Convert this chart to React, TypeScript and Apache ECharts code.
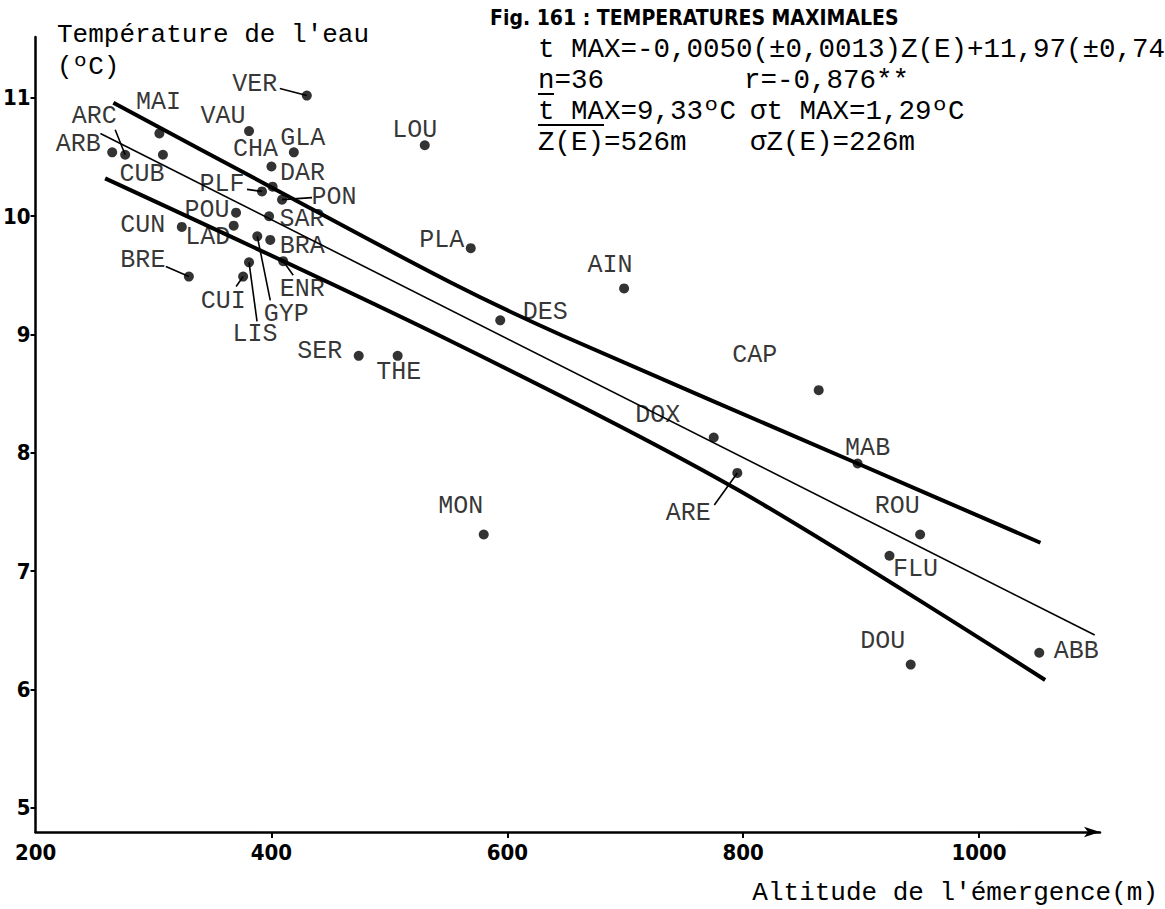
import React, { useEffect, useRef } from "react";
import * as echarts from "echarts";

// ---------- data ----------
const stations = [
  "VER", "MAI", "ARC", "ARB", "CUB", "VAU", "GLA", "CHA", "LOU", "DAR",
  "PLF", "PON", "POU", "SAR", "CUN", "LAD", "BRA", "GYP", "LIS", "CUI",
  "ENR", "BRE", "SER", "THE", "PLA", "AIN", "DES", "CAP", "DOX", "ARE",
  "MAB", "ROU", "FLU", "MON", "DOU", "ABB",
];
const altitudeM = [
  430, 305, 276, 265, 308, 381, 419, 400, 530, 401,
  392, 409, 370, 398, 324, 368, 399, 388, 381, 376,
  410, 330, 474, 507, 569, 699, 594, 864, 775, 795,
  897, 950, 924, 580, 942, 1051,
];
const tempMax = [
  11.02, 10.7, 10.52, 10.54, 10.52, 10.72, 10.54, 10.42, 10.6, 10.25,
  10.21, 10.14, 10.03, 10.0, 9.91, 9.92, 9.8, 9.83, 9.61, 9.49,
  9.62, 9.49, 8.82, 8.82, 9.73, 9.39, 9.12, 8.53, 8.13, 7.83,
  7.91, 7.31, 7.13, 7.31, 6.21, 6.31,
];

const xTickValues = [200, 400, 600, 800, 1000];
const xTickMarks = [400, 600, 800, 1000];
const yTickValues = [5, 6, 7, 8, 9, 10, 11];

// regression line and the two limit lines (altitude, temperature)
const regressionLine = [[255, 10.7], [1098, 6.46]];
const upperLimit = [[266, 10.96], [397, 10.26], [552, 9.44], [647, 8.99], [897, 7.91], [1052, 7.24]];
const lowerLimit = [[259, 10.32], [551, 8.95], [795, 7.69], [1056, 6.08]];

// ---------- layout (pixels) ----------
const LABEL_OFFSET: Record<string, [number, number]> = {
  VER: [-52, -11], MAI: [-1, -31], ARC: [-31, -38], ARB: [-34, -8], CUB: [-21, 20],
  VAU: [-26, -15], GLA: [9, -14], CHA: [-16, -17], LOU: [-10, -15], DAR: [30, -13],
  PLF: [-40, -7], PON: [52, -2], POU: [-29, -2], SAR: [33, 3], CUN: [-39, -1],
  LAD: [-26, 12], BRA: [32, 7], GYP: [29, 78], LIS: [6, 72], CUI: [-20, 25],
  ENR: [19, 28], BRE: [-46, -16], SER: [-39, -4], THE: [1, 17], PLA: [-29, -8],
  AIN: [-14, -23], DES: [45, -8], CAP: [-64, -35], DOX: [-56, -22], ARE: [-49, 41],
  MAB: [10, -15], ROU: [-23, -28], FLU: [26, 14], MON: [-23, -28], DOU: [-28, -23],
  ABB: [37, -1],
};
const LEADER_START: Record<string, [number, number]> = {
  VER: [-27, -7], ARC: [-10, -25], PLF: [-15, -2], PON: [30, -2], GYP: [13, 64],
  LIS: [8, 59], CUI: [-7, 10], ENR: [10, 14], BRE: [-23, -10], ARE: [-23, 32],
};

const MONO = '"Liberation Mono", "Courier New", monospace';
const NARROW = '"Liberation Sans Narrow", "Arial Narrow", "DejaVu Sans Condensed", sans-serif';
const INK = "#000";

const HX = 538; // header left
const HX2 = 750; // header second column

function buildOption(): any {
  const scatterData = stations.map((s, i) => ({
    name: s,
    value: [altitudeM[i], tempMax[i]],
    label: { offset: LABEL_OFFSET[s] || [0, -20] },
  }));
  const leaderData = stations
    .map((s, i) => (LEADER_START[s] ? [altitudeM[i], tempMax[i], LEADER_START[s][0], LEADER_START[s][1]] : null))
    .filter((d) => d !== null);

  const txt = (text: string, x: number, y: number, extra: any = {}) => ({
    type: "text",
    x,
    y,
    silent: true,
    style: {
      text,
      fontFamily: MONO,
      fontSize: 27.5,
      fill: INK,
      align: "left",
      verticalAlign: "middle",
      ...extra,
    },
  });

  return {
    animation: false,
    backgroundColor: "#fff",
    grid: { left: 35, right: 65, top: 37, bottom: 77, containLabel: false },
    xAxis: {
      type: "value",
      min: 200,
      max: 1102.5,
      axisLine: {
        show: true,
        lineStyle: { color: INK, width: 2.5 },
        symbol: ["none", "arrow"],
        symbolSize: [8, 16],
      },
      axisTick: {
        show: true,
        length: 6,
        lineStyle: { color: INK, width: 2 },
        customValues: xTickMarks,
      },
      axisLabel: {
        show: true,
        customValues: xTickValues,
        formatter: (v: number) => String(v),
        margin: 9,
        fontFamily: NARROW,
        fontWeight: "bold",
        fontSize: 22,
        color: INK,
      },
      splitLine: { show: false },
    },
    yAxis: {
      type: "value",
      min: 4.795,
      max: 11.515,
      axisLine: {
        show: true,
        lineStyle: { color: INK, width: 2.5 },
        symbol: ["none", "none"],
      },
      axisTick: {
        show: true,
        length: 5,
        lineStyle: { color: INK, width: 2 },
        customValues: yTickValues,
      },
      axisLabel: {
        show: true,
        customValues: yTickValues,
        formatter: (v: number) => String(v),
        margin: 5,
        fontFamily: NARROW,
        fontWeight: "bold",
        fontSize: 22,
        color: INK,
      },
      splitLine: { show: false },
    },
    series: [
      {
        name: "regression",
        type: "line",
        data: regressionLine,
        showSymbol: false,
        symbol: "none",
        lineStyle: { color: INK, width: 1.6 },
        z: 2,
        silent: true,
      },
      {
        name: "upper",
        type: "line",
        data: upperLimit,
        showSymbol: false,
        symbol: "none",
        smooth: 0.3,
        lineStyle: { color: INK, width: 4 },
        z: 2,
        silent: true,
      },
      {
        name: "lower",
        type: "line",
        data: lowerLimit,
        showSymbol: false,
        symbol: "none",
        smooth: 0.3,
        lineStyle: { color: INK, width: 4 },
        z: 2,
        silent: true,
      },
      {
        name: "leaders",
        type: "custom",
        data: leaderData,
        encode: { x: 0, y: 1 },
        clip: false,
        silent: true,
        z: 3,
        renderItem: (_params: any, api: any) => {
          const p = api.coord([api.value(0), api.value(1)]);
          return {
            type: "line",
            shape: { x1: p[0] + api.value(2), y1: p[1] + api.value(3), x2: p[0], y2: p[1] },
            style: { stroke: INK, lineWidth: 1.6 },
          };
        },
      },
      {
        name: "stations",
        type: "scatter",
        data: scatterData,
        symbol: "circle",
        symbolSize: 10,
        itemStyle: { color: INK },
        z: 4,
        label: {
          show: true,
          position: "inside",
          formatter: "{b}",
          fontFamily: MONO,
          fontSize: 25,
          lineHeight: 18,
          color: INK,
          textBorderWidth: 0,
        },
      },
    ],
    graphic: [
      txt("Température de l'eau", 57, 35, { fontSize: 26 }),
      txt("(ºC)", 57, 67, { fontSize: 26 }),
      txt("Altitude de l'émergence(m)", 1158, 893, { fontSize: 26, align: "right" }),
      txt("Fig. 161 : TEMPERATURES MAXIMALES", 490, 18, {
        fontFamily: NARROW,
        fontWeight: "bold",
        fontSize: 21,
      }),
      txt("t MAX=-0,0050(±0,0013)Z(E)+11,97(±0,74", HX, 49),
      txt("n=36", HX, 80),
      txt("r=-0,876**", HX2 - 6, 80),
      txt("t MAX=9,33ºC", HX, 111),
      txt("σt MAX=1,29ºC", HX2, 111),
      txt("Z(E)=526m", HX, 142),
      txt("σZ(E)=226m", HX2, 142),
      {
        type: "line",
        silent: true,
        shape: { x1: HX, y1: 94, x2: HX + 16, y2: 94 },
        style: { stroke: INK, lineWidth: 2 },
      },
      {
        type: "line",
        silent: true,
        shape: { x1: HX, y1: 125, x2: HX + 66, y2: 125 },
        style: { stroke: INK, lineWidth: 2 },
      },
    ],
  };
}

export default function App() {
  const ref = useRef<HTMLDivElement>(null);
  useEffect(() => {
    if (!ref.current) return;
    const chart = echarts.init(ref.current, null, { renderer: "svg" });
    chart.setOption(buildOption());
    return () => chart.dispose();
  }, []);
  return (
    <div
      ref={ref}
      style={{ position: "fixed", left: 0, top: 0, width: 1165, height: 909, background: "#fff" }}
    />
  );
}
